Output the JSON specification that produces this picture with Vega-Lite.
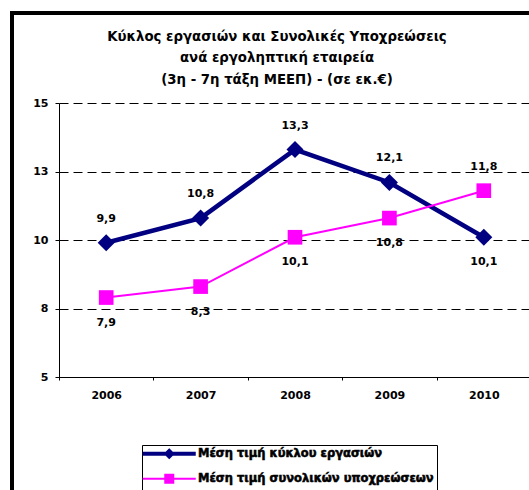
{
  "$schema": "https://vega.github.io/schema/vega-lite/v6.json",
  "width": 540,
  "height": 490,
  "autosize": {"type": "none"},
  "padding": {"left": 12, "top": 13, "right": 0, "bottom": 0},
  "background": "white",
  "title": {
    "text": ["Κύκλος εργασιών και Συνολικές Υποχρεώσεις", "ανά εργοληπτική εταιρεία", "(3η - 7η τάξη ΜΕΕΠ) - (σε εκ.€)"],
    "orient": "top",
    "anchor": "middle",
    "frame": "group",
    "baseline": "top",
    "offset": -18,
    "dx": -5,
    "dy": 55,
    "font": "DejaVu Sans",
    "fontSize": 13.3,
    "fontWeight": "bold",
    "color": "black",
    "lineHeight": 21.5
  },
  "data": {
    "values": [
      {"year": "2006", "series": "Μέση τιμή κύκλου εργασιών", "value": 9.9},
      {"year": "2007", "series": "Μέση τιμή κύκλου εργασιών", "value": 10.8},
      {"year": "2008", "series": "Μέση τιμή κύκλου εργασιών", "value": 13.3},
      {"year": "2009", "series": "Μέση τιμή κύκλου εργασιών", "value": 12.1},
      {"year": "2010", "series": "Μέση τιμή κύκλου εργασιών", "value": 10.1},
      {"year": "2006", "series": "Μέση τιμή συνολικών υποχρεώσεων", "value": 7.9},
      {"year": "2007", "series": "Μέση τιμή συνολικών υποχρεώσεων", "value": 8.3},
      {"year": "2008", "series": "Μέση τιμή συνολικών υποχρεώσεων", "value": 10.1},
      {"year": "2009", "series": "Μέση τιμή συνολικών υποχρεώσεων", "value": 10.8},
      {"year": "2010", "series": "Μέση τιμή συνολικών υποχρεώσεων", "value": 11.8}
    ]
  },
  "encoding": {
    "x": {
      "field": "year",
      "type": "ordinal",
      "scale": {"type": "band", "domain": ["2006", "2007", "2008", "2009", "2010"], "range": [47, 519], "paddingInner": 0, "paddingOuter": 0},
      "axis": {
        "title": null,
        "orient": "bottom",
        "offset": -126,
        "labelAngle": 0,
        "tickBand": "extent",
        "tickSize": 3,
        "tickColor": "black",
        "domainColor": "black",
        "labelPadding": 9,
        "labelFont": "DejaVu Sans",
        "labelFontSize": 11,
        "labelFontWeight": "bold",
        "labelColor": "black",
        "grid": false
      }
    },
    "y": {
      "field": "value",
      "type": "quantitative",
      "scale": {"domain": [5, 15], "range": [364, 90], "nice": false, "zero": false},
      "axis": {
        "title": null,
        "orient": "left",
        "offset": -47,
        "values": [5, 7.5, 10, 12.5, 15],
        "format": ".0f",
        "tickSize": 4,
        "tickColor": "black",
        "domainColor": "black",
        "labelPadding": 7,
        "labelFont": "DejaVu Sans",
        "labelFontSize": 11,
        "labelFontWeight": "bold",
        "labelColor": "black",
        "grid": true,
        "gridColor": "black",
        "gridDash": [9, 5],
        "gridWidth": 1
      }
    }
  },
  "layer": [
    {
      "transform": [{"filter": "datum.series === 'Μέση τιμή κύκλου εργασιών'"}],
      "mark": {"type": "line", "strokeWidth": 4.5},
      "encoding": {
        "color": {
          "field": "series",
          "type": "nominal",
          "scale": {"domain": ["Μέση τιμή κύκλου εργασιών", "Μέση τιμή συνολικών υποχρεώσεων"], "range": ["#000080", "#FF00FF"]},
          "legend": {
            "orient": "none",
            "legendX": 130,
            "legendY": 432,
            "title": null,
            "direction": "vertical",
            "strokeColor": "black",
            "fillColor": "white",
            "padding": 3,
            "symbolSize": 100,
            "symbolType": "M-5.3,0L5.3,0",
            "symbolOffset": 18.5,
            "labelOffset": 23,
            "labelLimit": 400,
            "labelFont": "DejaVu Sans",
            "labelFontSize": 11.5,
            "labelFontWeight": "bold",
            "labelColor": "black",
            "rowPadding": 5,
            "encode": {
              "labels": {
                "update": {
                  "fontWeight": {"value": "bold"},
                  "stroke": {"value": "black"},
                  "strokeWidth": {"value": 0.55}
                }
              },
              "symbols": {
                "update": {
                  "shape": {"signal": "datum.value === 'Μέση τιμή κύκλου εργασιών' ? 'M-5.3,0L5.3,0M-0.55,0L0,-0.55L0.55,0L0,0.55Z' : 'M-5.3,0L5.3,0M-0.8,-0.8L0.8,-0.8L0.8,0.8L-0.8,0.8Z'"},
                  "strokeWidth": {"signal": "datum.value === 'Μέση τιμή κύκλου εργασιών' ? 4 : 2"},
                  "fill": {"scale": "color", "field": "value"},
                  "opacity": {"value": 1}
                }
              }
            }
          }
        }
      }
    },
    {
      "transform": [{"filter": "datum.series === 'Μέση τιμή κύκλου εργασιών'"}],
      "mark": {"type": "point", "shape": "diamond", "filled": true, "size": 290, "opacity": 1, "color": "#000080"}
    },
    {
      "transform": [{"filter": "datum.series === 'Μέση τιμή συνολικών υποχρεώσεων'"}],
      "mark": {"type": "line", "strokeWidth": 2, "color": "#FF00FF"}
    },
    {
      "transform": [{"filter": "datum.series === 'Μέση τιμή συνολικών υποχρεώσεων'"}],
      "mark": {"type": "point", "shape": "square", "filled": true, "size": 215, "opacity": 1, "color": "#FF00FF"}
    },
    {
      "transform": [{"filter": "(datum.series === 'Μέση τιμή κύκλου εργασιών' && datum.year !== '2010') || (datum.series === 'Μέση τιμή συνολικών υποχρεώσεων' && datum.year === '2010')"}],
      "mark": {"type": "text", "dy": -24, "font": "DejaVu Sans", "fontSize": 11, "fontWeight": "bold", "color": "black"},
      "encoding": {"text": {"field": "value", "type": "quantitative", "format": ".1f"}}
    },
    {
      "transform": [{"filter": "!((datum.series === 'Μέση τιμή κύκλου εργασιών' && datum.year !== '2010') || (datum.series === 'Μέση τιμή συνολικών υποχρεώσεων' && datum.year === '2010'))"}],
      "mark": {"type": "text", "dy": 25, "font": "DejaVu Sans", "fontSize": 11, "fontWeight": "bold", "color": "black"},
      "encoding": {"text": {"field": "value", "type": "quantitative", "format": ".1f"}}
    }
  ],
  "config": {
    "font": "DejaVu Sans",
    "locale": {"number": {"decimal": ",", "thousands": ".", "grouping": [3], "currency": ["", " €"]}},
    "view": {"stroke": "black", "strokeWidth": 4},
    "legend": {"labelFontWeight": "bold", "labelFont": "DejaVu Sans"}
  }
}
